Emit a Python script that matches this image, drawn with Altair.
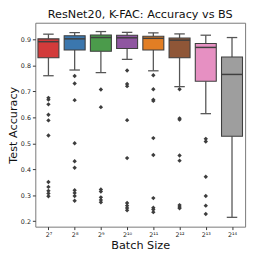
import json
import altair as alt
import pandas as pd

# ---- data ----
labels = ["2⁷", "2⁸", "2⁹", "2¹⁰", "2¹¹", "2¹²", "2¹³", "2¹⁴"]
colors = ["#d23b3b", "#3b77ae", "#4b9b4b", "#8f56a1", "#e27e24", "#8f5637", "#e690c2", "#9e9e9e"]
whislo = [0.760, 0.782, 0.772, 0.823, 0.779, 0.718, 0.614, 0.215]
q1 = [0.829, 0.859, 0.854, 0.865, 0.859, 0.829, 0.739, 0.527]
med = [0.891, 0.902, 0.907, 0.906, 0.904, 0.897, 0.869, 0.765]
q3 = [0.902, 0.914, 0.917, 0.916, 0.912, 0.905, 0.884, 0.832]
whishi = [0.920, 0.926, 0.930, 0.927, 0.925, 0.921, 0.916, 0.907]
outliers = [
    [0.675, 0.668, 0.650, 0.610, 0.588, 0.530, 0.351, 0.332, 0.317, 0.307, 0.296],
    [0.759, 0.730, 0.666, 0.500, 0.431, 0.406, 0.319, 0.309, 0.297, 0.279],
    [0.707, 0.639, 0.322, 0.314, 0.292, 0.282, 0.273],
    [0.780, 0.728, 0.720, 0.589, 0.443, 0.270, 0.260, 0.251, 0.242],
    [0.762, 0.708, 0.668, 0.663, 0.520, 0.455, 0.289, 0.252, 0.245, 0.235],
    [0.708, 0.596, 0.591, 0.453, 0.433, 0.262, 0.255, 0.250],
    [0.517, 0.507, 0.371, 0.297, 0.260, 0.228],
    [],
]
y_ticks = [0.2, 0.3, 0.4, 0.5, 0.6, 0.7, 0.8, 0.9]

# ---- tables ----
boxes = pd.DataFrame({"i": list(range(len(labels))), "lab": labels, "color": colors,
                      "lo": whislo, "q1": q1, "med": med, "q3": q3, "hi": whishi})
boxes["bl"] = boxes["i"] - 0.4
boxes["br"] = boxes["i"] + 0.4
boxes["cl"] = boxes["i"] - 0.2
boxes["cr"] = boxes["i"] + 0.2
out_rows = [{"i": i, "v": v} for i, vs in enumerate(outliers) for v in vs]
outs = pd.DataFrame(out_rows)

label_expr = json.dumps(labels) + "[datum.value]"
xscale = alt.Scale(domain=[-0.5, 7.5], nice=False, zero=False)
yscale = alt.Scale(domain=[0.179, 0.964], nice=False, zero=False)
xaxis = alt.Axis(values=list(range(len(labels))), labelExpr=label_expr, title="Batch Size")
yaxis = alt.Axis(values=y_ticks, format=".1f", title="Test Accuracy")

whisk_color = "#555555"
edge = "#3f3f3f"

X = lambda f: alt.X(f, type="quantitative", scale=xscale, axis=xaxis)
Y = lambda f: alt.Y(f, type="quantitative", scale=yscale, axis=yaxis)

base = alt.Chart(boxes)
lower = base.mark_rule(color=whisk_color, strokeWidth=1.3).encode(
    x=X("i"), y=Y("lo"), y2="q1:Q")
upper = base.mark_rule(color=whisk_color, strokeWidth=1.3).encode(
    x=X("i"), y=Y("q3"), y2="hi:Q")
cap_lo = base.mark_rule(color=whisk_color, strokeWidth=1.3).encode(
    x=X("cl"), x2="cr:Q", y=Y("lo"))
cap_hi = base.mark_rule(color=whisk_color, strokeWidth=1.3).encode(
    x=X("cl"), x2="cr:Q", y=Y("hi"))
box = base.mark_rect(stroke=edge, strokeWidth=1.1).encode(
    x=X("bl"), x2="br:Q", y=Y("q1"), y2="q3:Q",
    color=alt.Color("color:N", scale=None, legend=None))
median = base.mark_rule(color=edge, strokeWidth=1.5).encode(
    x=X("bl"), x2="br:Q", y=Y("med"))
pts = alt.Chart(outs).mark_point(shape="diamond", filled=True, size=20, color="#3d3d3d", opacity=1).encode(
    x=X("i"), y=Y("v"))

chart = alt.layer(lower, upper, cap_lo, cap_hi, box, median, pts).properties(
    width=215, height=209,
    title=alt.TitleParams("ResNet20, K-FAC: Accuracy vs BS", fontSize=11.5, fontWeight="normal",
                          font="DejaVu Sans", color="#111", offset=2),
    autosize=alt.AutoSizeParams(type="none"),
    padding={"left": 28, "top": 12, "right": 5, "bottom": 29},
).configure(font="DejaVu Sans").configure_view(
    stroke="#777777", strokeWidth=1
).configure_axis(
    grid=False, domain=False, tickSize=3, tickColor="#333", labelFontSize=6.5,
    labelColor="#222", titleFontSize=11.5, titleFontWeight="normal", titleColor="#111",
    labelPadding=2, titlePadding=2, labelOverlap=False, labelFlush=False,
    labelBound=False
)

chart.save("out.html", embed_options={"renderer": "svg", "actions": False})
